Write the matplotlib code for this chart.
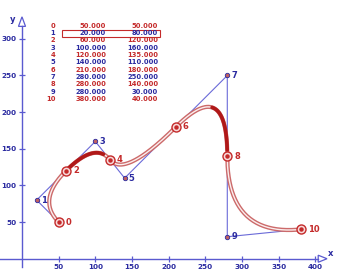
import numpy as np
import matplotlib
matplotlib.use("Agg")
import matplotlib.pyplot as plt
from matplotlib.patches import Polygon, Rectangle

# data
idx = list(range(11))
xs = [50, 20, 60, 100, 120, 140, 210, 280, 280, 280, 380]
ys = [50, 80, 120, 160, 135, 110, 180, 250, 140, 30, 40]
xticks = [50, 100, 150, 200, 250, 300, 350, 400]
yticks = [50, 100, 150, 200, 250, 300]

RED = '#c42a2a'
BLUE = '#2a2aa0'
AXC = '#5a5ad0'
POLY = '#6a6ad8'

W, H = 338, 275
fig = plt.figure(figsize=(W/100, H/100), dpi=100)
ax = fig.add_axes([0, 0, 1, 1])
ax.set_xlim(-30, 431)
ax.set_ylim(-22.2, 353)
for s in ['top', 'right']:
    ax.spines[s].set_visible(False)
ax.spines['left'].set_position(('data', 0))
ax.spines['bottom'].set_position(('data', 0))
ax.spines['bottom'].set_bounds(-30, 404)
ax.spines['left'].set_bounds(-11, 317)
for s in ['left', 'bottom']:
    ax.spines[s].set_color(AXC)
    ax.spines[s].set_linewidth(1.0)
ax.set_xticks(xticks)
ax.set_yticks(yticks)
ax.tick_params(direction='inout', length=5, width=0.9, color=AXC,
               labelcolor=BLUE, labelsize=5.2, pad=1.5)
for lab in ax.get_xticklabels() + ax.get_yticklabels():
    lab.set_fontweight('bold')
    lab.set_family('DejaVu Sans')

# arrow heads
ax.add_patch(Polygon([[404, -4.8], [404, 4.8], [416, 0]], closed=True,
                     fill=False, edgecolor=AXC, lw=0.9, clip_on=False))
ax.add_patch(Polygon([[-4.8, 317], [4.8, 317], [0, 330]], closed=True,
                     fill=False, edgecolor=AXC, lw=0.9, clip_on=False))
fig.text(331/W, 1 - 253/H, 'x', color=BLUE, fontsize=6, fontweight='bold',
         ha='center', va='center')
fig.text(13/W, 1 - 19/H, 'y', color=BLUE, fontsize=6, fontweight='bold',
         ha='center', va='center')

# control polygon
ax.plot(xs, ys, color=POLY, lw=0.8, zorder=2)

# piecewise quadratic bezier curve through even points with odd controls
n = 80
t = np.linspace(0, 1, n)
cx, cy = [], []
for k in range(0, len(xs) - 2, 2):
    p0 = np.array([xs[k], ys[k]]); p1 = np.array([xs[k+1], ys[k+1]]); p2 = np.array([xs[k+2], ys[k+2]])
    pts = ((1-t)**2)[:, None]*p0 + (2*(1-t)*t)[:, None]*p1 + (t**2)[:, None]*p2
    cx.extend(pts[:, 0]); cy.extend(pts[:, 1])
cx = np.array(cx); cy = np.array(cy)
ax.plot(cx, cy, color='#cc6a6a', lw=3.0, zorder=3, solid_capstyle='round')
ax.plot(cx, cy, color='#fbeeee', lw=1.0, zorder=4)
# darker stretches
seg = lambda k, a, b: slice(k*n + int(a*n), k*n + int(b*n))
for sl in [seg(1, 0.05, 0.8), seg(3, 0.45, 0.97)]:
    ax.plot(cx[sl], cy[sl], color='#b01818', lw=2.6, zorder=5, solid_capstyle='round')

# markers and labels
for i, x, y in zip(idx, xs, ys):
    if i % 2 == 0:
        ax.plot([x], [y], 'o', ms=6.5, mfc='#f8dada', mec=RED, mew=1.0, zorder=6)
        ax.plot([x], [y], 'o', ms=2.2, mfc=RED, mec=RED, zorder=7)
        ax.annotate(str(i), (x, y), xytext=(5, 0), textcoords='offset points',
                    color=RED, fontsize=6, fontweight='bold', va='center', ha='left')
    else:
        ax.plot([x], [y], 'o', ms=3.2, mfc='#c06060', mec=BLUE, mew=0.6, zorder=6)
        ax.annotate(str(i), (x, y), xytext=(3, 0), textcoords='offset points',
                    color=BLUE, fontsize=6, fontweight='bold', va='center', ha='left')

# table
for i, x, y in zip(idx, xs, ys):
    col = RED if i % 2 == 0 else BLUE
    yy = 1 - (25.7 + 7.33*i)/H
    kw = dict(color=col, fontsize=4.9, fontweight='bold', family='DejaVu Sans',
              va='center', ha='right')
    fig.text(55.5/W, yy, str(i), **kw)
    fig.text(106/W, yy, f'{x:.3f}', **kw)
    fig.text(158/W, yy, f'{y:.3f}', **kw)
fig.patches.append(Rectangle((62/W, 1 - 37.3/H), 98/W, 7.3/H, fill=False,
                             edgecolor=RED, lw=0.8, transform=fig.transFigure, figure=fig))

fig.savefig('out.png', dpi=100)
